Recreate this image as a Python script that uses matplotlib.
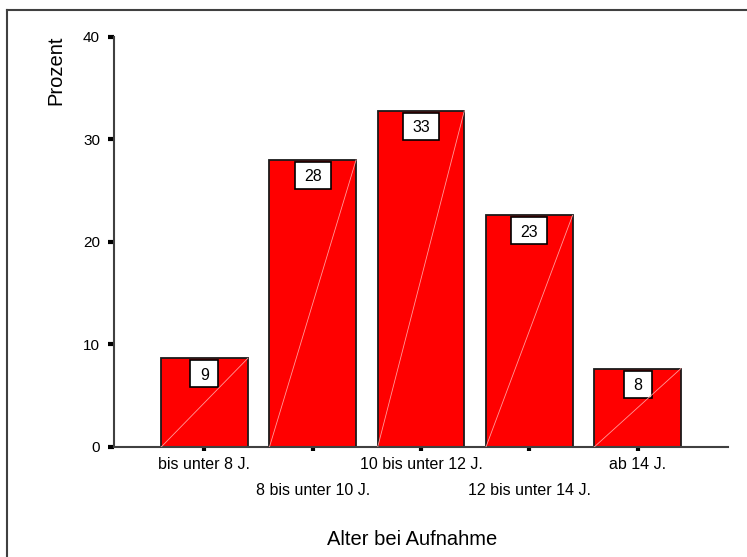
import matplotlib
matplotlib.use('Agg')
import matplotlib.pyplot as plt
from matplotlib.patches import Rectangle
from matplotlib.lines import Line2D
import numpy as np

plt.rcParams['font.family'] = ['Liberation Sans', 'DejaVu Sans']

categories = ['bis unter 8 J.', '8 bis unter 10 J.', '10 bis unter 12 J.',
              '12 bis unter 14 J.', 'ab 14 J.']
prozent = [8.65, 28.0, 32.8, 22.6, 7.65]
y_ticks = [0, 10, 20, 30, 40]

fig = plt.figure(figsize=(7.47, 5.57), dpi=100)
ax = fig.add_axes([0.1526, 0.1975, 0.822, 0.7361])

x = np.arange(len(categories))
bar_w = 0.8
ax.bar(x, prozent, width=bar_w, color='#ff0000', edgecolor='#1a1a1a',
       linewidth=1.3, zorder=2)
ax.set_xlim(-0.836, 4.836)
ax.set_ylim(0, 40)

# pixel -> data unit scale
px_x = (ax.get_xlim()[1] - ax.get_xlim()[0]) / (fig.get_figwidth() * fig.dpi * 0.822)
px_y = (ax.get_ylim()[1] - ax.get_ylim()[0]) / (fig.get_figheight() * fig.dpi * 0.7361)

for xi, v in zip(x, prozent):
    # faint diagonal across the bar
    ax.add_line(Line2D([xi - bar_w / 2, xi + bar_w / 2], [0, v],
                       color='#ff9a9a', lw=0.6, zorder=5))
    label = f'{v:.0f}'
    bw = (28 if len(label) == 1 else 36) * px_x
    bh = 27 * px_y
    top = v - 2 * px_y
    ax.add_patch(Rectangle((xi - bw / 2, top - bh), bw, bh, facecolor='white',
                           edgecolor='black', linewidth=1.2, zorder=4))
    ax.text(xi, top - bh / 2, label, ha='center', va='center_baseline',
            fontsize=11.5, color='black', zorder=6)

# spines and ticks
for side in ['top', 'right']:
    ax.spines[side].set_visible(False)
for side in ['left', 'bottom']:
    ax.spines[side].set_color('#404040')
    ax.spines[side].set_linewidth(1.5)

ax.set_yticks(y_ticks)
ax.tick_params(axis='y', direction='out', length=4, width=3, color='black',
               labelsize=11, pad=6)
ax.set_xticks(x, labels=[''] * len(x))
ax.tick_params(axis='x', direction='out', length=3, width=3, color='black')

# alternating category labels
for i, (xi, lab) in enumerate(zip(x, categories)):
    off = -10 if i % 2 == 0 else -36
    ax.annotate(lab, xy=(xi, 0), xycoords=('data', 'axes fraction'),
                xytext=(0, off), textcoords='offset pixels',
                ha='center', va='top', fontsize=11.5)

fig.text(56 / 747, 1 - 70 / 557, 'Prozent', rotation=90, ha='center',
         va='center', fontsize=14.5)
fig.text(412 / 747, 1 - 545 / 557, 'Alter bei Aufnahme', ha='center',
         va='baseline', fontsize=14.5)

# outer frame (left and top edges)
fig.add_artist(Line2D([7 / 747, 7 / 747], [0, 1 - 10 / 557],
                      transform=fig.transFigure, color='#404040', lw=1.5))
fig.add_artist(Line2D([7 / 747, 1], [1 - 10 / 557, 1 - 10 / 557],
                      transform=fig.transFigure, color='#404040', lw=1.5))

fig.savefig('out.png', dpi=100)
